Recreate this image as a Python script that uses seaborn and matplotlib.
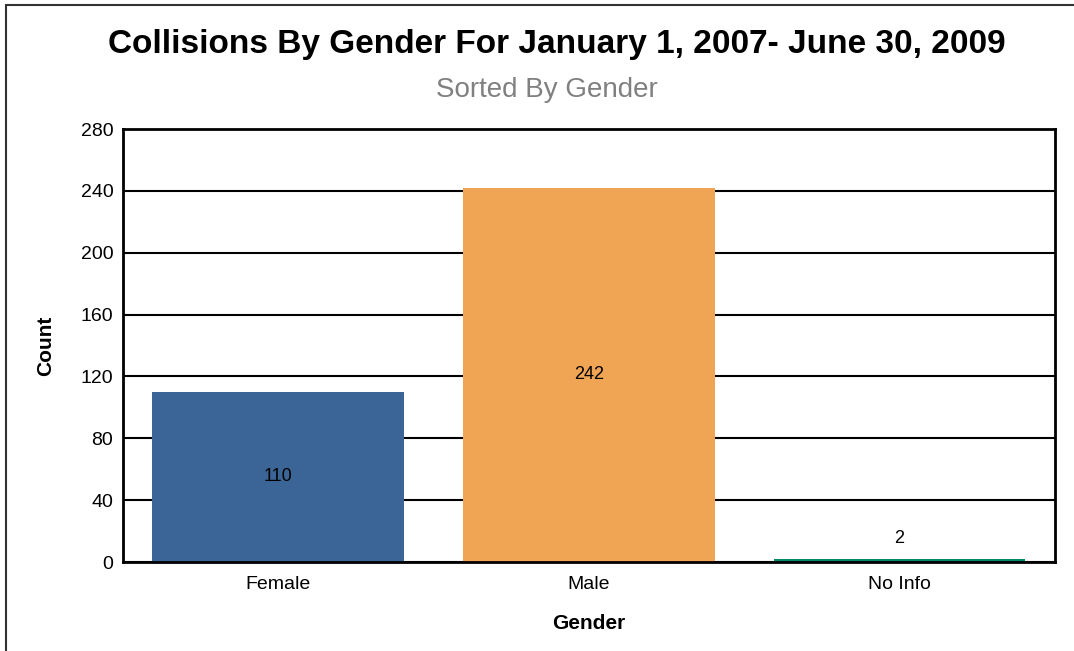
import matplotlib
matplotlib.use("Agg")
import matplotlib.pyplot as plt
import seaborn as sns
import pandas as pd
from matplotlib.patches import Rectangle

# Data
genders = ["Female", "Male", "No Info"]
counts = [110, 242, 2]
colors = ["#3A6596", "#F0A555", "#00896A"]

df = pd.DataFrame({"Gender": genders, "Count": counts})

sns.set_theme(style="white")
plt.rcParams["font.family"] = ["Liberation Sans", "DejaVu Sans"]
plt.rcParams["text.color"] = "black"
plt.rcParams["axes.labelcolor"] = "black"

fig = plt.figure(figsize=(10.74, 6.51), dpi=100)
ax = fig.add_axes([0.1145, 0.1367, 0.8675, 0.6651])

sns.barplot(data=df, x="Gender", y="Count", hue="Gender", palette=colors,
            width=0.81, legend=False, ax=ax, saturation=1, linewidth=0)

ax.set_xlim(-0.5, 2.5)
ax.set_ylim(0, 280)
ax.set_yticks(range(0, 281, 40))
ax.yaxis.grid(True, color="black", linewidth=1.5)
ax.set_axisbelow(True)
ax.tick_params(axis="y", length=0, labelsize=14, colors="black", pad=7)
ax.tick_params(axis="x", length=0, labelsize=14, colors="black", pad=10)

for side in ["left", "bottom", "top", "right"]:
    ax.spines[side].set_visible(True)
    ax.spines[side].set_color("black")
    ax.spines[side].set_linewidth(2)

ax.set_xlabel("Gender", fontsize=15, fontweight="bold", labelpad=15)
ax.set_ylabel("Count", fontsize=15, fontweight="bold", labelpad=18)

# value labels
for i, v in enumerate(counts):
    y = v / 2 if v > 20 else v + 13
    ax.text(i, y, str(v), ha="center", va="center", fontsize=13, color="black")

fig.text(0.518, 0.931, "Collisions By Gender For January 1, 2007- June 30, 2009",
         ha="center", va="center", fontsize=24, fontweight="bold", color="black")
fig.text(0.509, 0.861, "Sorted By Gender", ha="center", va="center",
         fontsize=20, color="#808080")

# outer frame
fig.patches.append(Rectangle((6 / 1074, -0.05), 1.2, 1 - 5 / 651 + 0.05,
                             transform=fig.transFigure, fill=False,
                             edgecolor="#333333", linewidth=1.5))

fig.savefig("out.png", dpi=100)
